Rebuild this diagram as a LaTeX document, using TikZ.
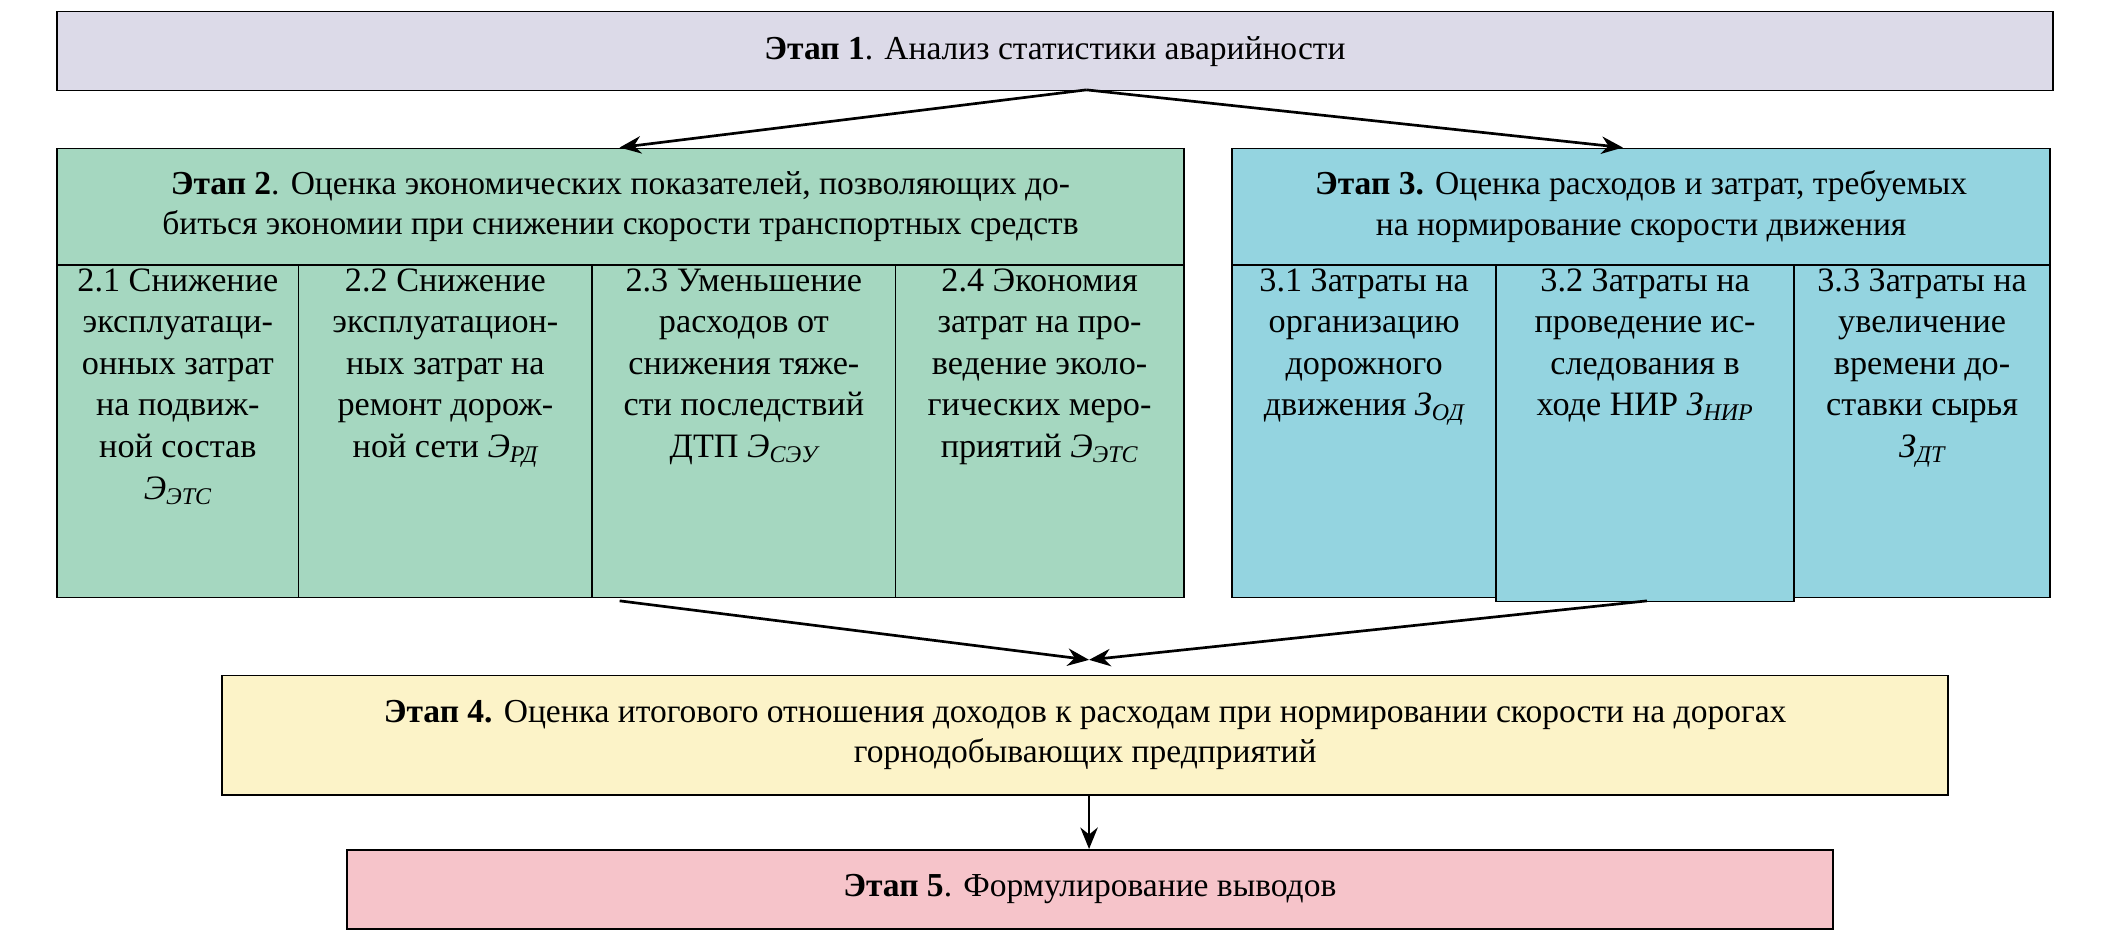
\documentclass[tikz,border=0pt]{standalone}
\usepackage{fontspec}
\setmainfont{Liberation Serif}
\usetikzlibrary{arrows.meta}
\newcommand{\ssub}[1]{\textsubscript{#1}}
\begin{document}
\begin{tikzpicture}[x=1pt,y=-1pt,
 box/.style={draw,line width=1.2pt,inner sep=0pt,anchor=north west},
 txt/.style={font=\rmfamily\fontsize{25}{30}\selectfont,align=center},
 sub/.style={font=\rmfamily\fontsize{25.5}{31}\selectfont,align=center,anchor=north,inner sep=3pt},
 arr/.style={line width=2pt,-{Stealth[length=16pt,width=13pt]}}]
\useasboundingbox (0,0) rectangle (1568,700);
\definecolor{lav}{RGB}{220,218,232}
\definecolor{grn}{RGB}{165,215,192}
\definecolor{tea}{RGB}{148,212,224}
\definecolor{yel}{RGB}{252,243,200}
\definecolor{pnk}{RGB}{246,196,202}
% stage 1
\node[box,fill=lav,minimum width=1488,minimum height=59] (s1) at (42,8) {};
\node[txt] at (s1.center) {\textbf{Этап 1}. Анализ статистики аварийности};
% stage 2
\node[box,fill=grn,minimum width=840,minimum height=87] (s2) at (42,110) {};
\node[txt] at (s2.center) {\textbf{Этап 2}. Оценка экономических показателей, позволяющих до-\\биться экономии при снижении скорости транспортных средств};
\node[box,fill=grn,minimum width=180,minimum height=248] (a1) at (42,197) {};
\node[box,fill=grn,minimum width=219,minimum height=248] (a2) at (222,197) {};
\node[box,fill=grn,minimum width=226,minimum height=248] (a3) at (441,197) {};
\node[box,fill=grn,minimum width=215,minimum height=248] (a4) at (667,197) {};
\node[sub] at (a1.north) {2.1 Снижение\\эксплуатаци-\\онных затрат\\на подвиж-\\ной состав\\{\itshape Э\ssub{ЭТС}}};
\node[sub] at (a2.north) {2.2 Снижение\\эксплуатацион-\\ных затрат на\\ремонт дорож-\\ной сети {\itshape Э\ssub{РД}}};
\node[sub] at (a3.north) {2.3 Уменьшение\\расходов от\\снижения тяже-\\сти последствий\\ДТП {\itshape Э\ssub{СЭУ}}};
\node[sub] at (a4.north) {2.4 Экономия\\затрат на про-\\ведение эколо-\\гических меро-\\приятий {\itshape Э\ssub{ЭТС}}};
% stage 3
\node[box,fill=tea,minimum width=610,minimum height=87] (s3) at (918,110) {};
\node[txt] at (s3.center) {\textbf{Этап 3.} Оценка расходов и затрат, требуемых\\на нормирование скорости движения};
\node[box,fill=tea,minimum width=197,minimum height=248] (b1) at (918,197) {};
\node[box,fill=tea,minimum width=222,minimum height=251] (b2) at (1115,197) {};
\node[box,fill=tea,minimum width=191,minimum height=248] (b3) at (1337,197) {};
\node[sub] at (b1.north) {3.1 Затраты на\\организацию\\дорожного\\движения {\itshape З\ssub{ОД}}};
\node[sub] at (b2.north) {3.2 Затраты на\\проведение ис-\\следования в\\ходе НИР {\itshape З\ssub{НИР}}};
\node[sub] at (b3.north) {3.3 Затраты на\\увеличение\\времени до-\\ставки сырья\\{\itshape З\ssub{ДТ}}};
% stage 4, 5
\node[box,fill=yel,minimum width=1287,minimum height=89] (s4) at (165,503) {};
\node[txt] at (s4.center) {\textbf{Этап 4.} Оценка итогового отношения доходов к расходам при нормировании скорости на дорогах\\горнодобывающих предприятий};
\node[box,fill=pnk,minimum width=1108,minimum height=59] (s5) at (258,633) {};
\node[txt] at (s5.center) {\textbf{Этап 5}. Формулирование выводов};
% arrows
\coordinate (p1) at (810,67);
\coordinate (t2) at (462,110);
\coordinate (t3) at (1210,110);
\coordinate (q2) at (462,448);
\coordinate (q3) at (1228,448);
\coordinate (m4) at (812,492);
\draw[arr] (p1) -- (t2);
\draw[arr] (p1) -- (t3);
\draw[arr] (q2) -- (m4);
\draw[arr] (q3) -- (m4);
\draw[arr] (s4.south -| m4) -- (s5.north -| m4);
\end{tikzpicture}
\end{document}
